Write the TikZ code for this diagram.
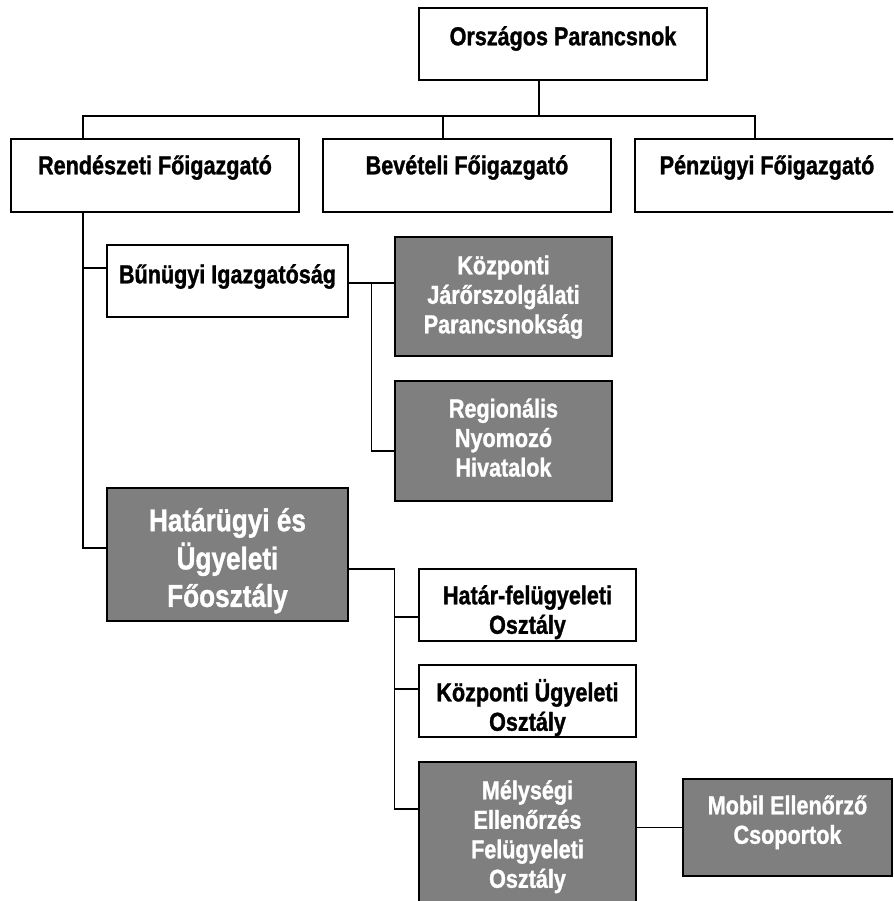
\documentclass[tikz,border=0pt]{standalone}
\usepackage{fontspec}
\newfontfamily\nar[FakeStretch=0.83, BoldFeatures={FakeBold=1.2}]{Liberation Sans}
\definecolor{boxgray}{HTML}{7F7F7F}
\newcommand{\mlines}[1]{\begin{tabular}[t]{@{}c@{}}#1\end{tabular}}
\begin{document}
\begin{tikzpicture}[x=1pt,y=-1pt,
  box/.style={draw=black, line width=1.4pt, fill=white, inner sep=0pt, text=black,
    font=\nar\bfseries\fontsize{26}{29.5}\selectfont},
  gbox/.style={box, fill=boxgray, text=white},
  th/.style={text height=20pt, text depth=#1},
  conn/.style={draw=black, line width=1.4pt}]
\clip (0,0) rectangle (893,901);
\fill[white] (0,0) rectangle (893,901);

% level 0
\node[box, minimum width=288pt, minimum height=72pt, th=17.4pt] (orsz) at (563,44) {Országos Parancsnok};
% level 1
\node[box, minimum width=288pt, minimum height=73pt, th=22.4pt] (rend) at (155,175.5) {Rendészeti Főigazgató};
\node[box, minimum width=288pt, minimum height=73pt, th=22.4pt] (bev) at (467,175.5) {Bevételi Főigazgató};
\node[box, minimum width=264pt, minimum height=73pt, th=22.4pt] (penz) at (767,175.5) {Pénzügyi Főigazgató};
% level 2
\node[box, minimum width=241pt, minimum height=72pt, th=15.4pt] (bun) at (227.5,281) {Bűnügyi Igazgatóság};
\node[gbox, minimum width=217pt, minimum height=119pt, th=64.4pt] (kjp) at (503.5,296.5) {\mlines{Központi\\Járőrszolgálati\\Parancsnokság}};
\node[gbox, minimum width=217pt, minimum height=120pt, th=67pt] (reg) at (503.5,441) {\mlines{Regionális\\Nyomozó\\Hivatalok}};
\node[gbox, minimum width=241pt, minimum height=133pt, font=\nar\bfseries\fontsize{31.5}{37.5}\selectfont, text height=25pt, text depth=71.6pt] (hat) at (227.5,554.5) {\mlines{Határügyi és\\Ügyeleti\\Főosztály}};
% level 3
\node[box, minimum width=217pt, minimum height=72pt, th=21.4pt] (hf) at (527.5,605) {\mlines{Határ-felügyeleti\\Osztály}};
\node[box, minimum width=217pt, minimum height=72pt, th=19.4pt] (ku) at (527.5,701) {\mlines{Központi Ügyeleti\\Osztály}};
\node[gbox, minimum width=217pt, minimum height=144pt, th=89.4pt] (mel) at (527.5,834) {\mlines{Mélységi\\Ellenőrzés\\Felügyeleti\\Osztály}};
\node[gbox, minimum width=209pt, minimum height=97pt, th=46.4pt] (mob) at (787.5,827.5) {\mlines{Mobil Ellenőrző\\Csoportok}};

% connectors
\coordinate (busM) at (539,116);
\draw[conn] ([xshift=-24pt]orsz.south) -- (busM);
\draw[conn] ([xshift=-72pt]rend.north) |- (busM) -| ([xshift=-12pt]penz.north);
\draw[conn] ([xshift=-24pt]bev.north) -- ++(0,-23);
\draw[conn] ([xshift=-72pt]rend.south) |- ([yshift=6.5pt]hat.west);
\draw[conn] ([yshift=13pt]bun.west) -- ++(-24,0);
\draw[conn] ([yshift=-2pt]bun.east) -- ++(47,0);
\draw[conn] ([yshift=-2pt,xshift=23pt]bun.east) |- ([yshift=-10pt]reg.west);
\draw[conn] ([yshift=-14.5pt]hat.east) -| ([xshift=-24pt,yshift=25pt]mel.west) -- ([yshift=25pt]mel.west);
\draw[conn] ([yshift=-12pt]hf.west) -- ++(-24,0);
\draw[conn] ([yshift=12pt]ku.west) -- ++(-24,0);
\draw[conn] (mob.west) -- (mob.west -| mel.east);
\end{tikzpicture}
\end{document}
